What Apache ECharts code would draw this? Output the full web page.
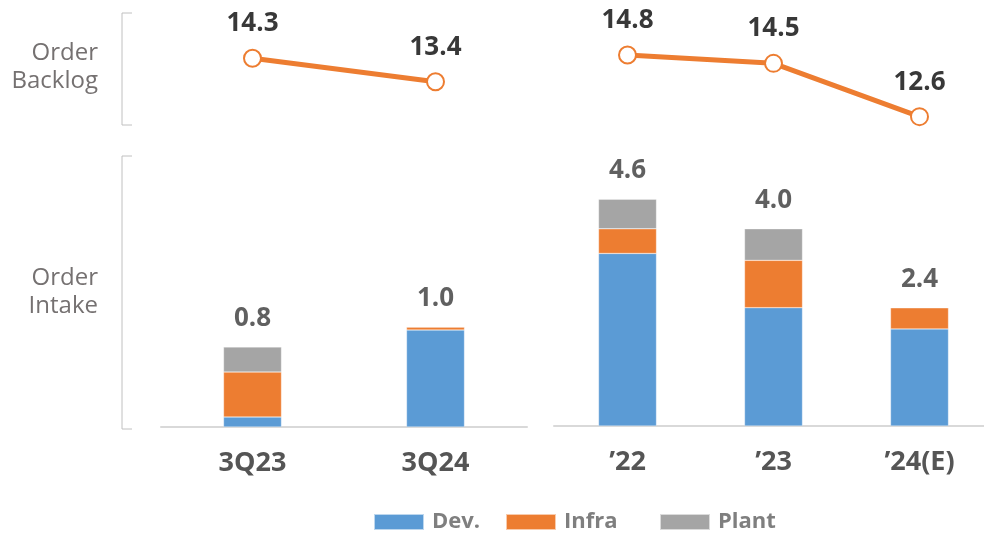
<!DOCTYPE html>
<html>
<head>
<meta charset="utf-8">
<script src="https://cdn.jsdelivr.net/npm/echarts@6/dist/echarts.min.js"></script>
<style>
  html, body { margin: 0; padding: 0; background: #fff; }
  #chart { width: 984px; height: 533px; }
</style>
</head>
<body>
<div id="chart"></div>
<script>
// Quarterly panel
const quarterCats = ['3Q23', '3Q24'];
const quarterBacklog = [14.3, 13.4];
const quarterDev = [0.10, 0.97];
const quarterInfra = [0.45, 0.03];
const quarterPlant = [0.25, 0];

// Annual panel
const yearCats = ['\u201922', '\u201923', '\u201924(E)'];
const yearBacklog = [14.8, 14.5, 12.6];
const yearDev = [3.5, 2.4, 1.97];
const yearInfra = [0.5, 0.96, 0.43];
const yearPlant = [0.6, 0.64, 0];

const segmentNames = ['Dev.', 'Infra', 'Plant'];
const rowLabels = ['Order\nBacklog', 'Order\nIntake'];

const COLORS = { dev: '#5B9BD5', infra: '#ED7D31', plant: '#A5A5A5', line: '#ED7D31' };
const FONT = '"Open Sans", "Noto Sans", sans-serif';
const VALUE_COLOR = '#383838';

const sum = (...arrs) => arrs[0].map((_, i) => arrs.reduce((s, a) => s + a[i], 0));
const quarterTotal = sum(quarterDev, quarterInfra, quarterPlant);
const yearTotal = sum(yearDev, yearInfra, yearPlant);

const chart = echarts.init(document.getElementById('chart'), null, { renderer: 'canvas' });

const valueLabel = (dist) => ({
  show: true, position: 'top', distance: dist,
  fontFamily: FONT, fontWeight: 'bold', fontSize: 26, color: VALUE_COLOR,
  formatter: p => Number(p.value).toFixed(1)
});

function barSeries(name, data, color, xi, yi) {
  return {
    name, type: 'bar', stack: 'intake' + xi, data,
    xAxisIndex: xi, yAxisIndex: yi,
    barWidth: 58,
    itemStyle: { color, borderColor: 'rgba(255,255,255,0.6)', borderWidth: 0.5 },
    emphasis: { disabled: true }, animation: false
  };
}

function totalSeries(data, xi, yi) {
  return {
    type: 'scatter', data, xAxisIndex: xi, yAxisIndex: yi,
    symbolSize: 1, itemStyle: { color: 'rgba(0,0,0,0)' },
    label: valueLabel(15), silent: true, animation: false
  };
}

function lineSeries(data, xi, yi) {
  return {
    type: 'line', data, xAxisIndex: xi, yAxisIndex: yi,
    symbol: 'circle', symbolSize: 17,
    lineStyle: { color: COLORS.line, width: 5 },
    itemStyle: { color: '#fff', borderColor: COLORS.line, borderWidth: 2 },
    label: valueLabel(12), silent: true, animation: false, z: 3
  };
}

const catAxis = (data, gi, showLine, showLabel, boundaryGap) => ({
  type: 'category', gridIndex: gi, data, boundaryGap,
  axisLine: { show: showLine, lineStyle: { color: '#d9d9d9', width: 2 } },
  axisTick: { show: false },
  axisLabel: {
    show: showLabel, margin: 23, fontFamily: FONT, fontWeight: 'bold',
    fontSize: 27, color: '#555555'
  }
});

const valAxis = (gi, min, max) => ({
  type: 'value', gridIndex: gi, min, max, show: false,
  splitLine: { show: false }
});

const legendItem = (name, left) => ({
  data: [name], left, top: 510, padding: 0, icon: 'rect',
  itemWidth: 50, itemHeight: 16, itemGap: 0,
  textStyle: {
    fontFamily: FONT, fontWeight: 'bold', fontSize: 22, lineHeight: 24,
    color: '#7f7f7f', padding: [0, 0, 0, 3]
  },
  selectedMode: false
});

const bracket = (x, y1, y2) => ({
  type: 'polyline',
  shape: { points: [[x + 10, y1], [x, y1], [x, y2], [x + 10, y2]] },
  style: { stroke: '#c0c0c0', lineWidth: 1, fill: null }
});

const rowText = (text, y) => ({
  type: 'text', right: 886, top: y,
  style: {
    text, fontFamily: FONT, fontSize: 24, fill: '#757171',
    textAlign: 'right', lineHeight: 28
  }
});

chart.setOption({
  backgroundColor: '#fff',
  animation: false,
  grid: [
    // quarterly backlog / intake
    { left: 161, width: 366, top: 14.1, height: 117 },
    { left: 161, width: 366, top: 227, height: 200 },
    // annual backlog / intake (category ticks run edge to edge)
    { left: 627.5, width: 292, top: 21.3, height: 126.2 },
    { left: 627.5, width: 292, top: 179.5, height: 246.5 },
    // annual baseline
    { left: 554, width: 430, top: 176, height: 250 }
  ],
  xAxis: [
    catAxis(quarterCats, 0, false, false, true),
    catAxis(quarterCats, 1, true, true, true),
    catAxis(yearCats, 2, false, false, false),
    catAxis(yearCats, 3, false, true, false),
    catAxis(yearCats, 4, true, false, true)
  ],
  yAxis: [
    valAxis(0, 11.5, 16),
    valAxis(1, 0, 2),
    valAxis(2, 11.5, 16),
    valAxis(3, 0, 5),
    valAxis(4, 0, 5)
  ],
  legend: [
    legendItem(segmentNames[0], 373),
    legendItem(segmentNames[1], 505),
    legendItem(segmentNames[2], 659)
  ],
  series: [
    lineSeries(quarterBacklog, 0, 0),
    barSeries(segmentNames[0], quarterDev, COLORS.dev, 1, 1),
    barSeries(segmentNames[1], quarterInfra, COLORS.infra, 1, 1),
    barSeries(segmentNames[2], quarterPlant, COLORS.plant, 1, 1),
    totalSeries(quarterTotal, 1, 1),
    lineSeries(yearBacklog, 2, 2),
    barSeries(segmentNames[0], yearDev, COLORS.dev, 3, 3),
    barSeries(segmentNames[1], yearInfra, COLORS.infra, 3, 3),
    barSeries(segmentNames[2], yearPlant, COLORS.plant, 3, 3),
    totalSeries(yearTotal, 3, 3)
  ],
  graphic: [
    bracket(122, 13, 125),
    bracket(122, 156, 429),
    rowText(rowLabels[0], 39),
    rowText(rowLabels[1], 264)
  ]
});
</script>
</body>
</html>
